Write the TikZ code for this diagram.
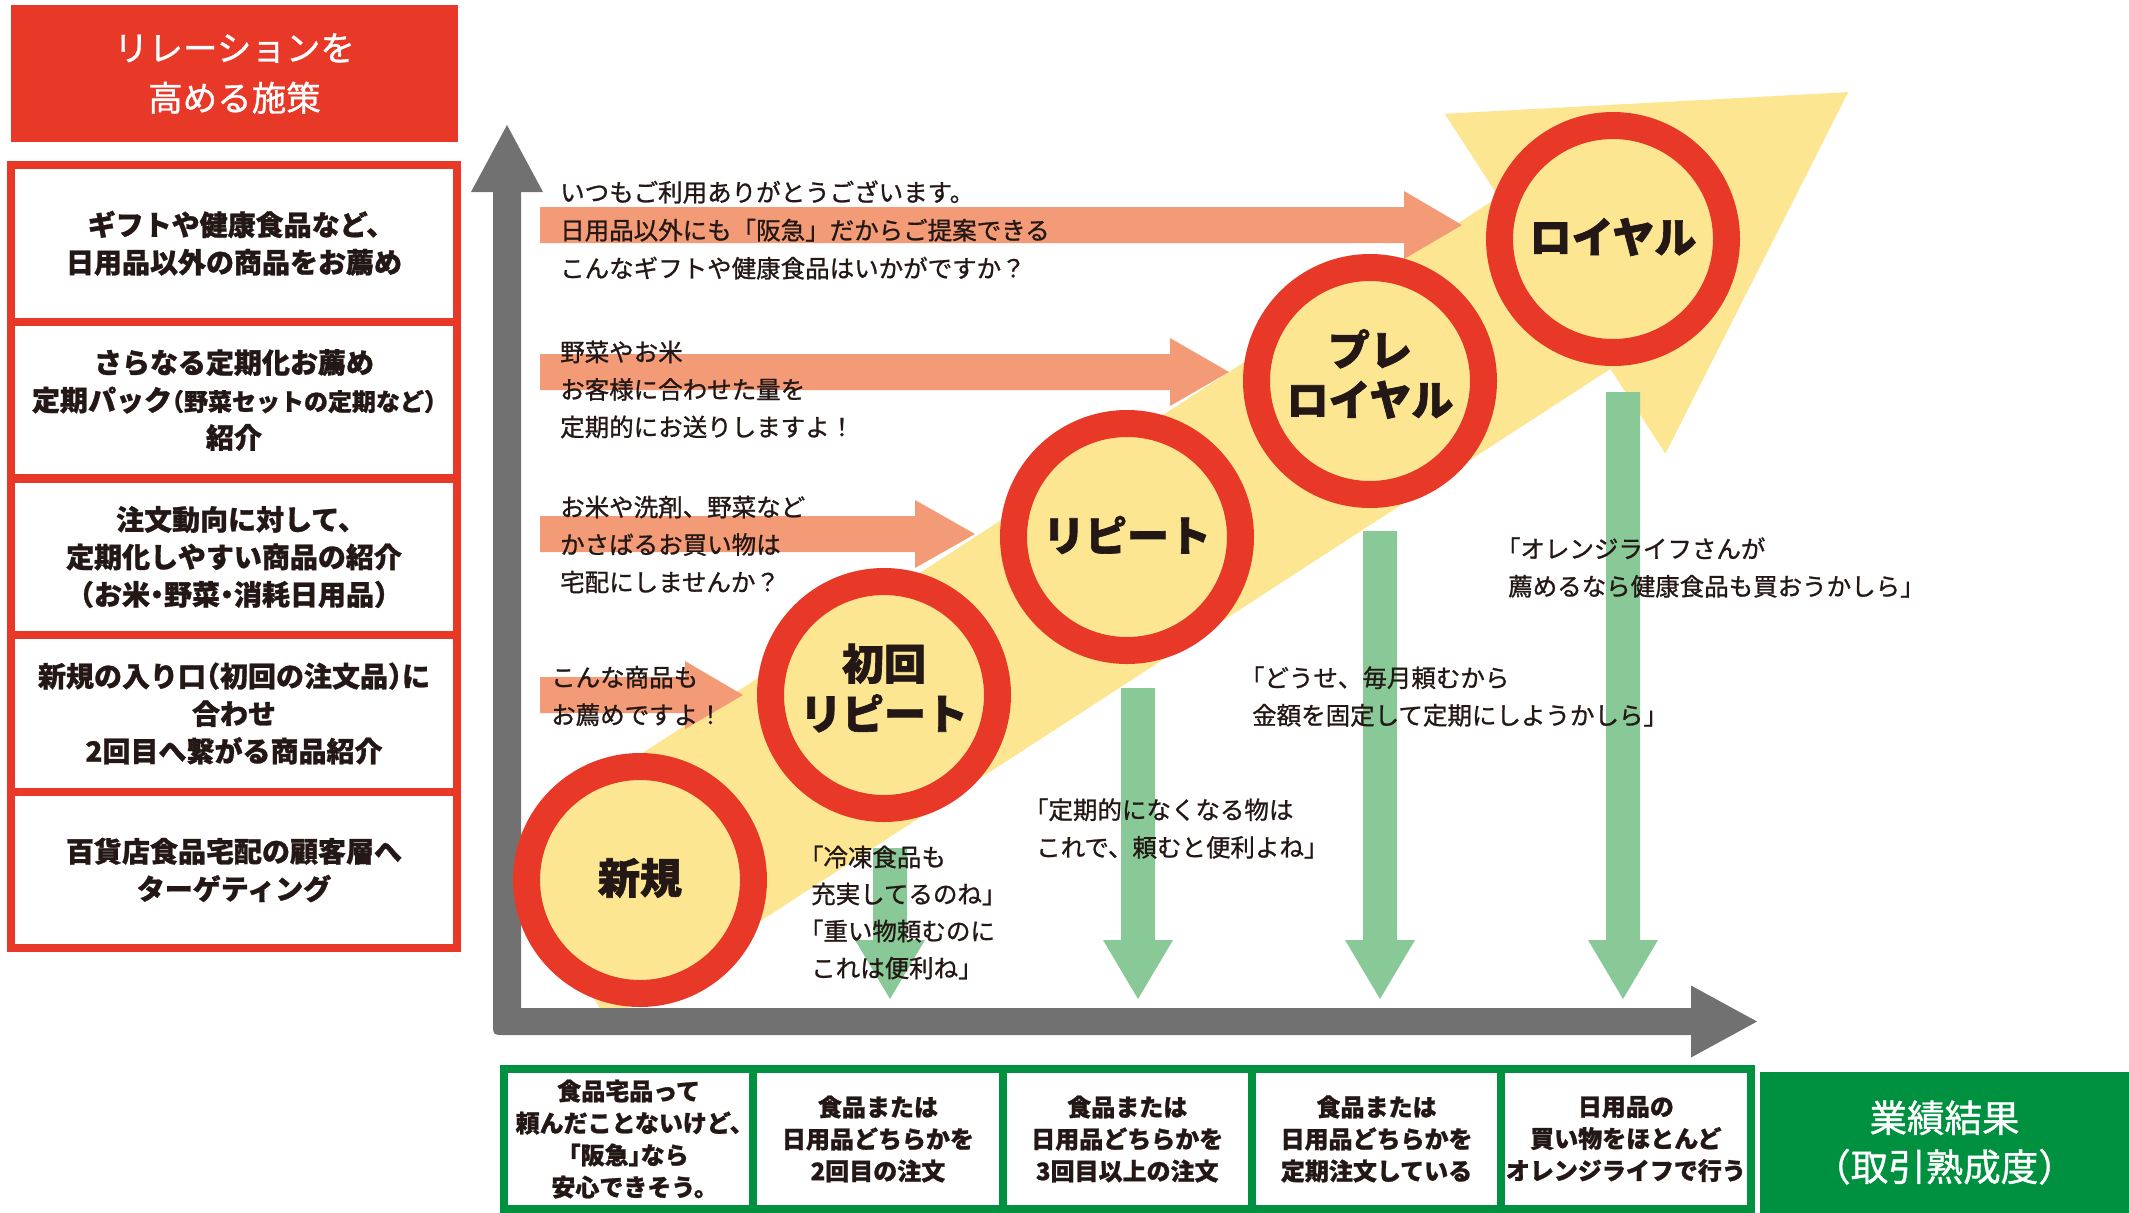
\documentclass[tikz,border=0pt]{standalone}
\usepackage{fontspec}
\newfontfamily\jp{Noto Sans CJK JP}[FakeBold=1]
\newfontfamily\jph{Noto Sans CJK JP}[RawFeature=+halt, FakeBold=1, BoldFeatures={FakeBold=1}]
\newfontfamily\jpk{Noto Sans CJK JP}[BoldFeatures={FakeBold=1.6}]
\definecolor{cred}{HTML}{E83828}
\definecolor{corange}{HTML}{F29B76}
\definecolor{cyellow}{HTML}{FDE691}
\definecolor{cgreenl}{HTML}{89C997}
\definecolor{cgreen}{HTML}{009140}
\definecolor{cgray}{HTML}{727171}
\definecolor{ctext}{HTML}{231815}
\tikzset{
  leftcell/.style={draw=cred, line width=8pt, minimum width=446pt, minimum height=156.5pt, inner sep=0pt, align=center, text=ctext, font=\jph\bfseries\fontsize{28}{37.5}\selectfont},
  botcell/.style={draw=cgreen, line width=8pt, minimum width=249.3pt, minimum height=140pt, inner sep=0pt, align=center, text=ctext, font=\jph\bfseries\fontsize{24}{32}\selectfont},
  stagering/.style={circle, draw=cred, fill=cyellow, line width=27pt, minimum size=227pt, inner sep=0pt},
  stagelabel/.style={inner sep=0pt, align=center, text=ctext, font=\jpk\bfseries\fontsize{42}{50}\selectfont},
  say/.style={anchor=west, inner sep=0pt, align=left, text=ctext, font=\jp\fontsize{24.5}{37.5}\selectfont},
  oarrow/.style={fill=corange},
  garrow/.style={fill=cgreenl},
}
\newcommand\orarrow[4]{\fill[oarrow] (#2,#1-18) -- (#3,#1-18) -- (#3,#1-34) -- (#4,#1) -- (#3,#1+34) -- (#3,#1+18) -- (#2,#1+18) -- cycle;}
\newcommand\grarrow[2]{\fill[garrow] (#1-17,#2) -- (#1+17,#2) -- (#1+17,940) -- (#1+35,940) -- (#1,999) -- (#1-35,940) -- (#1-17,940) -- cycle;}
\begin{document}
\begin{tikzpicture}[x=1pt,y=-1pt]
\useasboundingbox (0,0) rectangle (2129,1213);
\fill[white] (0,0) rectangle (2129,1213);

% title
\node[fill=cred, minimum width=447pt, minimum height=137pt, inner sep=0pt, align=center, text=white, font=\jp\fontsize{34.5}{50}\selectfont] (title) at (234.5,73.5) {リレーションを\\高める施策};

% left measures
\node[leftcell] (l1) at (234,243.25) {ギフトや健康食品など、\\日用品以外の商品をお薦め};
\node[leftcell] (l2) at (234,400) {さらなる定期化お薦め\\定期パック{\fontsize{24}{37.5}\selectfont（野菜セットの定期など）}\\紹介};
\node[leftcell] (l3) at (234,557) {注文動向に対して、\\定期化しやすい商品の紹介\\（お米・野菜・消耗日用品）};
\node[leftcell] (l4) at (234,713.5) {新規の入り口（初回の注文品）に\\合わせ\\2回目へ繋がる商品紹介};
\node[leftcell] (l5) at (234,870) {百貨店食品宅配の顧客層へ\\ターゲティング};

% big yellow arrow
\fill[cyellow] (496,848.2) -- (607.8,1020.2) -- (1610.4,368.9) -- (1665.4,453.6) -- (1848.2,92.1) -- (1444.7,113.8) -- (1498.6,196.9) -- cycle;

% axes
\fill[cgray] (507,125) -- (543,192) -- (521,192) -- (521,1008) -- (1691,1008) -- (1691,985.5) -- (1757,1021.5) -- (1691,1057.5) -- (1691,1035) -- (505,1035) .. controls (493,1035) .. (493,1023) -- (493,192) -- (471,192) -- cycle;

% green arrows
\grarrow{890}{848}
\grarrow{1138}{688}
\grarrow{1380}{531}
\grarrow{1623}{392}

% orange arrows
\orarrow{225}{540}{1404}{1462}
\orarrow{372}{540}{1170}{1229}
\orarrow{534}{540}{915}{975}
\orarrow{695}{540}{685}{743}

% stage circles
\node[stagering] (n1) at (640,880) {};
\node[stagering] (n2) at (884,695) {};
\node[stagering] (n3) at (1127,537) {};
\node[stagering] (n4) at (1370,381) {};
\node[stagering] (n5) at (1613,239) {};
\node[stagelabel] (m1) at ([yshift=2pt]n1.center) {新規};
\node[stagelabel] (m2) at ([yshift=7pt]n2.center) {初回\\リピート};
\node[stagelabel] (m3) at ([yshift=2pt]n3.center) {リピート};
\node[stagelabel] (m4) at ([yshift=7pt]n4.center) {プレ\\ロイヤル};
\node[stagelabel] (m5) at ([yshift=2pt]n5.center) {ロイヤル};

% proposals
\node[say, font=\jp\fontsize{24.5}{38}\selectfont] (s1) at (560,230) {いつもご利用ありがとうございます。\\日用品以外にも「阪急」だからご提案できる\\こんなギフトや健康食品はいかがですか？};
\node[say] (s2) at (560,389.5) {野菜やお米\\お客様に合わせた量を\\定期的にお送りしますよ！};
\node[say] (s3) at (560,544.5) {お米や洗剤、野菜など\\かさばるお買い物は\\宅配にしませんか？};
\node[say] (s4) at (551,696) {こんな商品も\\お薦めですよ！};

% customer voices
\node[say, font=\jp\fontsize{24.5}{37}\selectfont] (q1) at (811,912.5) {\hspace*{-0.5em}「冷凍食品も\\充実してるのね」\\\hspace*{-0.5em}「重い物頼むのに\\これは便利ね」};
\node[say] (q2) at (1036,828.5) {\hspace*{-0.5em}「定期的になくなる物は\\これで、頼むと便利よね」};
\node[say] (q3) at (1252,696.5) {\hspace*{-0.5em}「どうせ、毎月頼むから\\金額を固定して定期にしようかしら」};
\node[say] (q4) at (1508,567.5) {\hspace*{-0.5em}「オレンジライフさんが\\薦めるなら健康食品も買おうかしら」};

% bottom results
\node[botcell] (b1) at (628.65,1139) {食品宅品って\\頼んだことないけど、\\「阪急」なら\\安心できそう。};
\node[botcell] (b2) at (877.95,1139) {食品または\\日用品どちらかを\\2回目の注文};
\node[botcell] (b3) at (1127.25,1139) {食品または\\日用品どちらかを\\3回目以上の注文};
\node[botcell] (b4) at (1376.55,1139) {食品または\\日用品どちらかを\\定期注文している};
\node[botcell] (b5) at (1625.85,1139) {日用品の\\買い物をほとんど\\オレンジライフで行う};
\node[fill=cgreen, minimum width=369pt, minimum height=141pt, inner sep=0pt, align=center, text=white, font=\jph\fontsize{37.5}{49}\selectfont] (res) at (1944.5,1142.5) {業績結果\\（取引熟成度）};
\end{tikzpicture}
\end{document}
